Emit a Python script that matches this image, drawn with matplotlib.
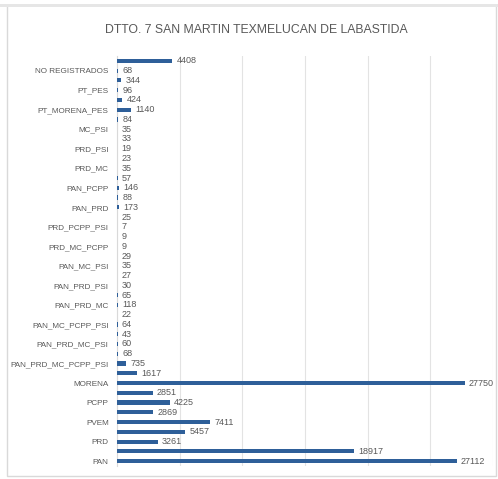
import matplotlib
matplotlib.use("Agg")
import matplotlib.pyplot as plt
from matplotlib.patches import Rectangle

# categories from bottom to top
categories = [
    "PAN", "PRI", "PRD", "PT", "PVEM", "MC", "PCPP", "PSI", "MORENA", "PES",
    "PAN_PRD_MC_PCPP_PSI", "PAN_PRD_MC_PCPP", "PAN_PRD_MC_PSI", "PAN_PRD_PCPP_PSI",
    "PAN_MC_PCPP_PSI", "PRD_MC_PCPP_PSI", "PAN_PRD_MC", "PAN_PRD_PCPP", "PAN_PRD_PSI",
    "PAN_MC_PCPP", "PAN_MC_PSI", "PAN_PCPP_PSI", "PRD_MC_PCPP", "PRD_MC_PSI",
    "PRD_PCPP_PSI", "MC_PCPP_PSI", "PAN_PRD", "PAN_MC", "PAN_PCPP", "PAN_PSI",
    "PRD_MC", "PRD_PCPP", "PRD_PSI", "MC_PCPP", "MC_PSI", "PCPP_PSI",
    "PT_MORENA_PES", "PT_MORENA", "PT_PES", "MORENA_PES", "NO REGISTRADOS", "NULOS",
]
votes = [
    27112, 18917, 3261, 5457, 7411, 2869, 4225, 2851, 27750, 1617,
    735, 68, 60, 43, 64, 22, 118, 65, 30, 27, 35, 29, 9, 9, 7, 25,
    173, 88, 146, 57, 35, 23, 19, 33, 35, 84, 1140, 424, 96, 344, 68, 4408,
]
title = "DTTO. 7 SAN MARTIN TEXMELUCAN DE LABASTIDA"

plt.rcParams['font.family'] = ['Liberation Sans', 'DejaVu Sans']
grey = "#595959"
bar_color = "#2E5F99"

fig = plt.figure(figsize=(4.98, 4.79), dpi=100)
fig.patches.append(Rectangle((7 / 498, 3 / 479), 489 / 498, 471 / 479,
                             transform=fig.transFigure, fill=False,
                             edgecolor="#D9D9D9", linewidth=1.0))
fig.patches.append(Rectangle((0, 1 - 7 / 479), 1, 3 / 479,
                             transform=fig.transFigure, facecolor="#E6E6E6",
                             edgecolor="none"))

ax = fig.add_axes([117 / 498, 13 / 479, 376 / 498, 410 / 479])
y = list(range(len(categories)))
ax.barh(y, votes, height=0.42, color=bar_color, zorder=3)
for yi, v in zip(y, votes):
    ax.annotate(f"{v}", (v, yi), xytext=(3, 0), textcoords="offset points",
                va="center", ha="left", fontsize=6.5, color=grey)

ax.set_xlim(0, 30000)
ax.set_ylim(-0.5, len(categories) - 0.5)
ax.set_xticks(range(0, 30001, 5000))
ax.set_xticklabels([])
ax.tick_params(axis="x", length=0)
ax.grid(axis="x", color="#E3E3E3", linewidth=0.8, zorder=0)
ax.set_yticks(y[::2])
ax.set_yticklabels(categories[::2], fontsize=5.9, color=grey)
ax.tick_params(axis="y", length=0, pad=6)
for s in ["top", "right", "bottom"]:
    ax.spines[s].set_visible(False)
ax.spines["left"].set_color("#D9D9D9")

fig.text(256 / 498, 1 - 30 / 479, title, ha="center", va="center",
         fontsize=8.8, color=grey)

fig.savefig("out.png", dpi=100)
